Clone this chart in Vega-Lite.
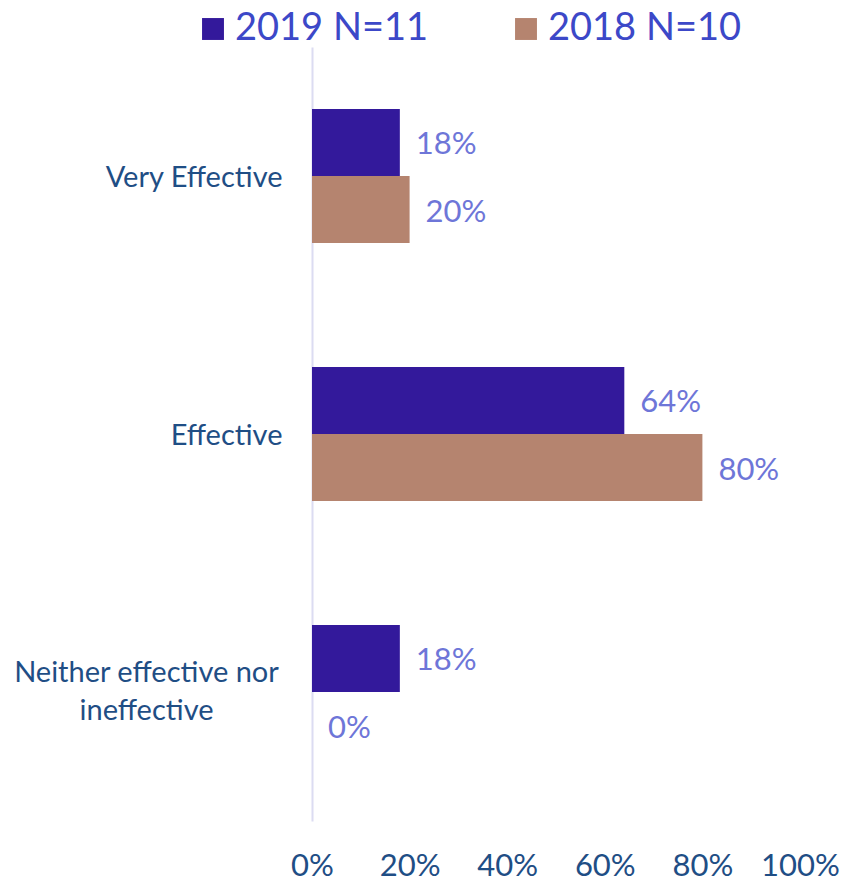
{
  "$schema": "https://vega.github.io/schema/vega-lite/v6.json",
  "autosize": "none",
  "width": 488,
  "height": 774,
  "padding": {"left": 312, "top": 47, "right": 44, "bottom": 62},
  "background": "white",
  "config": {"font": "Lato", "view": {"stroke": null}},
  "data": {
    "values": [
      {"cat": "Very Effective", "year": "2019 N=11", "v": 0.18},
      {"cat": "Very Effective", "year": "2018 N=10", "v": 0.20},
      {"cat": "Effective", "year": "2019 N=11", "v": 0.64},
      {"cat": "Effective", "year": "2018 N=10", "v": 0.80},
      {"cat": "Neither effective nor ineffective", "year": "2019 N=11", "v": 0.18},
      {"cat": "Neither effective nor ineffective", "year": "2018 N=10", "v": 0.0}
    ]
  },
  "encoding": {
    "y": {
      "field": "cat",
      "type": "nominal",
      "sort": ["Very Effective", "Effective", "Neither effective nor ineffective"],
      "scale": {"paddingInner": 0.48, "paddingOuter": 0.24},
      "axis": {
        "title": null,
        "ticks": false,
        "grid": false,
        "domain": true,
        "domainColor": "#DCDCF2",
        "domainWidth": 2,
        "labelFontSize": 29,
        "labelColor": "#1F4E85",
        "labelPadding": {"condition": {"test": "datum.value == 'Neither effective nor ineffective'", "value": 166}, "value": 30},
        "labelAlign": {"condition": {"test": "datum.value == 'Neither effective nor ineffective'", "value": "center"}, "value": "right"},
        "labelOffset": {"condition": {"test": "datum.value == 'Neither effective nor ineffective'", "value": -19}, "value": 2},
        "labelLimit": 400,
        "labelLineHeight": 38,
        "labelExpr": "datum.label == 'Neither effective nor ineffective' ? ['Neither effective nor', 'ineffective'] : datum.label"
      }
    },
    "yOffset": {
      "field": "year",
      "type": "nominal",
      "sort": ["2019 N=11", "2018 N=10"],
      "scale": {"paddingInner": 0, "paddingOuter": 0}
    },
    "x": {
      "field": "v",
      "type": "quantitative",
      "scale": {"domain": [0, 1]},
      "axis": {
        "title": null,
        "values": [0, 0.2, 0.4, 0.6, 0.8, 1],
        "format": ".0%",
        "domain": false,
        "ticks": false,
        "grid": false,
        "labelFontSize": 31,
        "labelColor": "#1F4E85",
        "labelPadding": 30,
        "labelFlush": false
      }
    }
  },
  "layer": [
    {
      "mark": {"type": "bar"},
      "encoding": {
        "color": {
          "field": "year",
          "type": "nominal",
          "sort": ["2019 N=11", "2018 N=10"],
          "scale": {"domain": ["2019 N=11", "2018 N=10"], "range": ["#33199B", "#B5846F"]},
          "legend": {
            "title": null,
            "orient": "none",
            "direction": "horizontal",
            "legendX": -118,
            "legendY": -37,
            "symbolType": "square",
            "symbolSize": 480,
            "symbolStrokeWidth": 0,
            "symbolOpacity": 1,
            "labelFontSize": 38,
            "labelColor": "#3C48C8",
            "labelOffset": 3,
            "labelLimit": 400,
            "columnPadding": 78
          }
        }
      }
    },
    {
      "mark": {"type": "text", "align": "left", "baseline": "middle", "dx": 16, "dy": 3, "fontSize": 31, "color": "#6E76D8"},
      "encoding": {
        "text": {"field": "v", "type": "quantitative", "format": ".0%"}
      }
    }
  ]
}
